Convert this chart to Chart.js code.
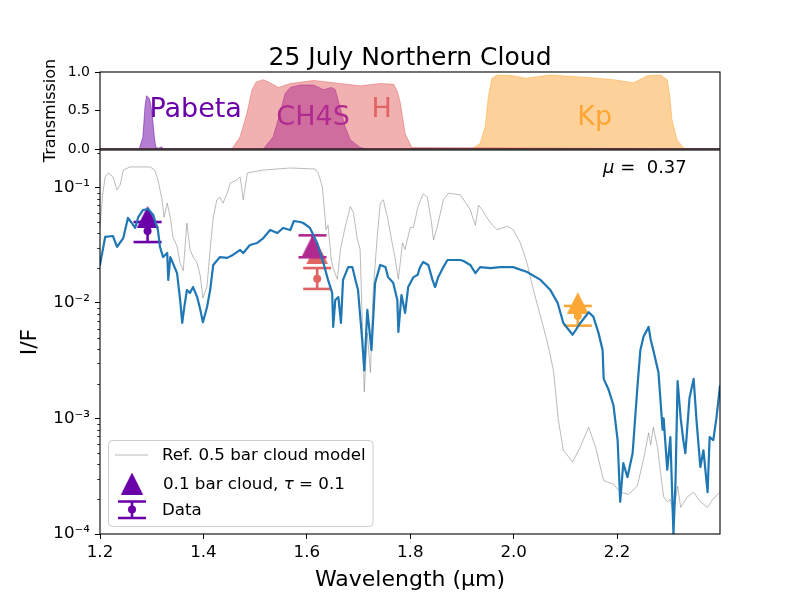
<!DOCTYPE html>
<html>
<head>
<meta charset="utf-8">
<script src="https://cdn.jsdelivr.net/npm/chart.js@4.4.0/dist/chart.umd.min.js"></script>
<style>
  body { margin: 0; background: #fff; }
  #wrap { position: relative; width: 800px; height: 600px; background: #fff; }
  #wrap canvas { position: absolute; left: 0; top: 0; }
</style>
</head>
<body>
<div id="wrap">
  <canvas id="spec" width="800" height="600"></canvas>
  <canvas id="filt" width="800" height="600"></canvas>
</div>
<script>
// ---- data ----
const titleText = "25 July Northern Cloud";
const xTicks = [1.2, 1.4, 1.6, 1.8, 2.0, 2.2];
const yTicks = [1e-4, 1e-3, 1e-2, 1e-1];
const yTickLabels = ["10⁻⁴", "10⁻³", "10⁻²", "10⁻¹"];
const transTicks = [0, 0.5, 1.0];
const legendLabels = ["Ref. 0.5 bar cloud model", "0.1 bar cloud, τ = 0.1", "Data"];
const muText = "μ =  0.37";

// reference 0.5 bar cloud model (grey)
const refWave = [
  1.200, 1.205, 1.210, 1.216, 1.225, 1.233, 1.239, 1.245, 1.258, 1.297,
  1.306, 1.312, 1.320, 1.324, 1.330, 1.336, 1.341, 1.349, 1.355, 1.361,
  1.368, 1.374, 1.380, 1.388, 1.394, 1.399, 1.407, 1.413, 1.419, 1.426,
  1.432, 1.438, 1.446, 1.452, 1.465, 1.471, 1.477, 1.485, 1.496, 1.516,
  1.568, 1.616, 1.622, 1.630, 1.634, 1.637, 1.641, 1.647, 1.651, 1.659,
  1.665, 1.674, 1.684, 1.690, 1.697, 1.703, 1.707, 1.711, 1.717, 1.723,
  1.728, 1.736, 1.742, 1.748, 1.757, 1.765, 1.771, 1.777, 1.785, 1.790,
  1.800, 1.806, 1.815, 1.825, 1.833, 1.841, 1.845, 1.852, 1.864, 1.874,
  1.897, 1.916, 1.926, 1.932, 1.939, 1.949, 1.959, 1.968, 1.988, 1.999,
  2.013, 2.026, 2.038, 2.052, 2.065, 2.077, 2.086, 2.096, 2.114, 2.129,
  2.145, 2.158, 2.174, 2.193, 2.206, 2.222, 2.239, 2.251, 2.261, 2.265,
  2.270, 2.278, 2.284, 2.290, 2.297, 2.303, 2.309, 2.317, 2.323, 2.336,
  2.348, 2.361, 2.375, 2.385, 2.399
];
const refIF = [
  0.045, 0.085, 0.123, 0.133, 0.123, 0.095, 0.105, 0.141, 0.150, 0.150,
  0.141, 0.116, 0.078, 0.055, 0.073, 0.055, 0.037, 0.031, 0.022, 0.019,
  0.049, 0.029, 0.025, 0.022, 0.017, 0.011, 0.014, 0.029, 0.055, 0.078,
  0.082, 0.073, 0.089, 0.109, 0.116, 0.123, 0.078, 0.133, 0.136, 0.141,
  0.147, 0.144, 0.133, 0.101, 0.064, 0.043, 0.047, 0.024, 0.020, 0.016,
  0.029, 0.045, 0.068, 0.061, 0.037, 0.029, 0.0076, 0.0017, 0.0055, 0.0025,
  0.012, 0.037, 0.073, 0.078, 0.052, 0.033, 0.024, 0.016, 0.033, 0.029,
  0.045, 0.045, 0.068, 0.088, 0.082, 0.050, 0.035, 0.045, 0.078, 0.089,
  0.086, 0.064, 0.047, 0.070, 0.064, 0.054, 0.047, 0.043, 0.046, 0.043,
  0.033, 0.022, 0.013, 0.0076, 0.0046, 0.0026, 0.0010, 0.00053, 0.00042, 0.00057,
  0.00084, 0.00057, 0.00029, 0.00027, 0.00023, 0.00022, 0.00026, 0.00044, 0.00075, 0.00059,
  0.00084, 0.00057, 0.00034, 0.00021, 0.00019, 0.00020, 0.00015, 0.00026, 0.00017, 0.00021,
  0.00023, 0.00019, 0.00017, 0.00020, 0.00023
];

// 0.1 bar cloud model (blue)
const cloudWave = [
  1.200, 1.210, 1.225, 1.233, 1.245, 1.254, 1.260, 1.268, 1.274, 1.283,
  1.293, 1.303, 1.312, 1.316, 1.322, 1.330, 1.332, 1.336, 1.341, 1.349,
  1.355, 1.359, 1.363, 1.368, 1.374, 1.380, 1.388, 1.394, 1.399, 1.407,
  1.413, 1.419, 1.432, 1.446, 1.457, 1.471, 1.477, 1.490, 1.504, 1.516,
  1.529, 1.543, 1.554, 1.568, 1.575, 1.587, 1.593, 1.601, 1.606, 1.620,
  1.632, 1.641, 1.649, 1.651, 1.655, 1.661, 1.666, 1.670, 1.680, 1.688,
  1.694, 1.699, 1.707, 1.711, 1.717, 1.725, 1.732, 1.742, 1.752, 1.757,
  1.767, 1.775, 1.777, 1.783, 1.790, 1.796, 1.806, 1.814, 1.819, 1.825,
  1.835, 1.843, 1.848, 1.854, 1.864, 1.872, 1.897, 1.903, 1.916, 1.926,
  1.935, 1.955, 1.974, 1.999, 2.026, 2.052, 2.071, 2.085, 2.096, 2.114,
  2.129, 2.145, 2.154, 2.164, 2.172, 2.174, 2.183, 2.193, 2.201, 2.206,
  2.212, 2.220, 2.230, 2.239, 2.245, 2.251, 2.261, 2.265, 2.270, 2.280,
  2.288, 2.290, 2.297, 2.303, 2.309, 2.313, 2.317, 2.323, 2.328, 2.332,
  2.340, 2.348, 2.354, 2.361, 2.367, 2.375, 2.379, 2.386, 2.392, 2.399
];
const cloudIF = [
  0.0213, 0.0372, 0.0379, 0.0305, 0.0364, 0.0543, 0.0501, 0.0445, 0.0553, 0.0636,
  0.0649, 0.0576, 0.0427, 0.0305, 0.0249, 0.0270, 0.0158, 0.0249, 0.0221, 0.0181,
  0.0106, 0.0067, 0.0092, 0.0129, 0.0122, 0.0137, 0.0112, 0.0087, 0.0068, 0.0092,
  0.0129, 0.0213, 0.0249, 0.0245, 0.0260, 0.0287, 0.0270, 0.0317, 0.0330, 0.0364,
  0.0427, 0.0402, 0.0445, 0.0427, 0.0511, 0.0501, 0.0491, 0.0463, 0.0445, 0.0330,
  0.0221, 0.0158, 0.0122, 0.0062, 0.0106, 0.0112, 0.0067, 0.0158, 0.0204, 0.0204,
  0.0158, 0.0129, 0.0048, 0.0026, 0.0087, 0.0039, 0.0149, 0.0213, 0.0204, 0.0167,
  0.0149, 0.0106, 0.0056, 0.0117, 0.0082, 0.0137, 0.0167, 0.0174, 0.0204, 0.0226,
  0.0213, 0.0158, 0.0137, 0.0167, 0.0204, 0.0235, 0.0235, 0.0230, 0.0213, 0.0181,
  0.0204, 0.0200, 0.0204, 0.0204, 0.0185, 0.0158, 0.0129, 0.0100, 0.0067, 0.0053,
  0.0067, 0.0083, 0.0076, 0.0055, 0.0039, 0.0022, 0.0018, 0.0013, 0.00065, 0.00019,
  0.00041, 0.00031, 0.00050, 0.0018, 0.0039, 0.0051, 0.0062, 0.0048, 0.0039, 0.0025,
  0.00080, 0.0010, 0.00036, 0.00069, 0.00010, 0.00029, 0.0021, 0.0010, 0.00065, 0.00050,
  0.0015, 0.0022, 0.00091, 0.00038, 0.00053, 0.00023, 0.00069, 0.00065, 0.0010, 0.0019
];

// filters: observed I/F with error bars, model I/F in each filter
const filterNames = ["Pabeta", "CH4S", "H", "Kp"];
const filterColors = ["#6a00a8", "#b12a90", "#e16462", "#fca636"];
const obsWave = [1.292, 1.611, 1.620, 2.124];
const obsIF = [0.0419, 0.0310, 0.0162, 0.0077];
const obsLow = [0.0336, 0.0248, 0.0132, 0.00635];
const obsHigh = [0.0501, 0.0384, 0.0200, 0.0094];
const modelIF = [0.0553, 0.0311, 0.0268, 0.00997];
const labelWave = [1.2955, 1.541, 1.725, 2.123];
const labelTrans = [0.42, 0.31, 0.42, 0.31];

// filter transmission curves
const paWave = [1.200, 1.276, 1.283, 1.287, 1.290, 1.295, 1.298, 1.302, 1.305, 1.308, 1.314, 1.319, 1.323, 2.399];
const paTrans = [0, 0, 0.16, 0.55, 0.69, 0.66, 0.59, 0.38, 0.16, 0.02, 0.01, 0.03, 0, 0];
const ch4Wave = [1.200, 1.516, 1.535, 1.548, 1.558, 1.568, 1.587, 1.613, 1.632, 1.648, 1.655, 1.664, 1.674, 1.684, 1.703, 1.716, 2.399];
const ch4Trans = [0, 0, 0.16, 0.46, 0.72, 0.80, 0.83, 0.83, 0.77, 0.80, 0.77, 0.55, 0.29, 0.12, 0.02, 0, 0];
const hWave = [1.200, 1.455, 1.471, 1.484, 1.494, 1.502, 1.516, 1.526, 1.545, 1.568, 1.613, 1.652, 1.703, 1.742, 1.768, 1.775, 1.781, 1.790, 1.803, 2.399];
const hTrans = [0, 0, 0.16, 0.46, 0.77, 0.87, 0.90, 0.87, 0.80, 0.85, 0.89, 0.86, 0.82, 0.85, 0.84, 0.75, 0.59, 0.20, 0.02, 0];
const kpWave = [1.200, 1.919, 1.935, 1.945, 1.951, 1.958, 1.968, 2.000, 2.023, 2.071, 2.142, 2.193, 2.232, 2.258, 2.284, 2.297, 2.302, 2.306, 2.316, 2.329, 2.342, 2.399];
const kpTrans = [0, 0, 0.07, 0.29, 0.68, 0.92, 0.96, 0.95, 0.92, 0.96, 0.93, 0.90, 0.86, 0.95, 0.96, 0.90, 0.68, 0.38, 0.12, 0.01, 0, 0];

const filtWave = [paWave, ch4Wave, hWave, kpWave];
const filtTrans = [paTrans, ch4Trans, hTrans, kpTrans];

// ---- helpers ----
Chart.defaults.font.family = "'DejaVu Sans', sans-serif";
Chart.defaults.color = "#000";
Chart.defaults.animation = false;

const FONT = "'DejaVu Sans', sans-serif";
const refColor = "rgba(128,128,128,0.6)";
const pts = (xs, ys) => xs.map((x, i) => ({ x: x, y: ys[i] }));

function rgba(hex, a) {
  const n = parseInt(hex.slice(1), 16);
  return `rgba(${(n >> 16) & 255},${(n >> 8) & 255},${n & 255},${a})`;
}

// matplotlib style "^" marker: as wide as it is tall, centred on its box
function triMarker(color, size) {
  const c = document.createElement("canvas");
  c.width = size;
  c.height = size;
  const g = c.getContext("2d");
  g.fillStyle = color;
  g.beginPath();
  g.moveTo(size / 2, 0);
  g.lineTo(size, size);
  g.lineTo(0, size);
  g.closePath();
  g.fill();
  return c;
}
const triangles = filterColors.map((c) => triMarker(c, 22));

// text with greek letters in italic, like mathtext
function drawMath(ctx, text, x, y, size) {
  for (const ch of text.split(/([μτ])/)) {
    if (!ch) continue;
    ctx.font = (/[μτ]/.test(ch) ? "italic " : "") + size + "px " + FONT;
    ctx.fillText(ch, x, y);
    x += ctx.measureText(ch).width;
  }
}

function roundBox(ctx, x, y, w, h, r) {
  ctx.beginPath();
  ctx.moveTo(x + r, y);
  ctx.arcTo(x + w, y, x + w, y + h, r);
  ctx.arcTo(x + w, y + h, x, y + h, r);
  ctx.arcTo(x, y + h, x, y, r);
  ctx.arcTo(x, y, x + w, y, r);
  ctx.closePath();
}

const frame = {
  id: "frame",
  afterDraw(chart) {
    const { ctx, chartArea: a } = chart;
    ctx.save();
    ctx.strokeStyle = "#000";
    ctx.lineWidth = 1.1;
    ctx.strokeRect(a.left, a.top, a.right - a.left, a.bottom - a.top);
    ctx.restore();
  }
};

const tickAxis = (extra) => Object.assign({
  border: { display: false },
  grid: { drawOnChartArea: false, drawTicks: true, tickLength: 5, color: "#000", lineWidth: 1 }
}, extra);

// ---- main spectrum panel ----
const specSets = [
  {
    label: legendLabels[1],
    data: pts(cloudWave, cloudIF),
    showLine: true, pointRadius: 0,
    borderColor: "#1f77b4", borderWidth: 2.2,
    borderJoinStyle: "round", borderCapStyle: "round",
    order: 0
  },
  {
    label: legendLabels[0],
    data: pts(refWave, refIF),
    showLine: true, pointRadius: 0,
    borderColor: refColor, borderWidth: 0.9,
    order: 100
  }
];
const stackRank = [1, 0, 3, 2]; // CH4S markers sit above H markers
filterNames.forEach((name, i) => {
  const c = filterColors[i];
  const r = stackRank[i] * 3;
  specSets.push({
    label: name + " model",
    data: [{ x: obsWave[i], y: modelIF[i] }],
    pointStyle: triangles[i], pointRadius: 11,
    order: 1 + r
  });
  specSets.push({
    label: name + " data",
    data: [{ x: obsWave[i], y: obsIF[i] }],
    pointStyle: "circle", pointRadius: 4,
    backgroundColor: c, borderWidth: 0,
    order: 2 + r
  });
  specSets.push({
    label: name + " error",
    data: [{ x: obsWave[i], y: obsLow[i] }, { x: obsWave[i], y: obsHigh[i] }],
    showLine: true, borderColor: c, borderWidth: 2.6,
    pointStyle: "line", pointRadius: 14,
    pointBorderColor: c, pointBorderWidth: 2.6,
    order: 3 + r
  });
});

const specExtras = {
  id: "specExtras",
  afterDraw(chart) {
    const { ctx, scales: { y }, chartArea: a } = chart;
    ctx.save();
    // minor log ticks
    ctx.strokeStyle = "#000";
    ctx.lineWidth = 0.8;
    for (let e = -4; e <= -1; e++) {
      for (let m = 2; m <= 9; m++) {
        const v = m * Math.pow(10, e);
        if (v > y.max) continue;
        const py = Math.round(y.getPixelForValue(v)) + 0.5;
        ctx.beginPath();
        ctx.moveTo(a.left, py);
        ctx.lineTo(a.left - 2.8, py);
        ctx.stroke();
      }
    }
    // mu label
    ctx.fillStyle = "#000";
    ctx.textBaseline = "alphabetic";
    ctx.textAlign = "left";
    drawMath(ctx, muText, 603, 172.5, 18);

    // legend
    roundBox(ctx, 108.5, 440.5, 264.5, 86, 4);
    ctx.fillStyle = "rgba(255,255,255,0.8)";
    ctx.fill();
    ctx.strokeStyle = "#cccccc";
    ctx.lineWidth = 1;
    ctx.stroke();

    ctx.strokeStyle = refColor;
    ctx.lineWidth = 0.9;
    ctx.beginPath();
    ctx.moveTo(115, 455);
    ctx.lineTo(148, 455);
    ctx.stroke();

    const tri = triangles[0];
    ctx.drawImage(tri, 132 - tri.width / 2, 483.5 - tri.height / 2);

    const c = filterColors[0];
    ctx.strokeStyle = c;
    ctx.lineWidth = 2.6;
    ctx.beginPath();
    ctx.moveTo(132, 501.5); ctx.lineTo(132, 518);
    ctx.moveTo(118, 501.5); ctx.lineTo(146, 501.5);
    ctx.moveTo(118, 518); ctx.lineTo(146, 518);
    ctx.stroke();
    ctx.fillStyle = c;
    ctx.beginPath();
    ctx.arc(132, 509.5, 4, 0, Math.PI * 2);
    ctx.fill();

    ctx.fillStyle = "#000";
    drawMath(ctx, legendLabels[0], 162, 460, 16.7);
    drawMath(ctx, legendLabels[1], 163, 489, 16.7);
    drawMath(ctx, legendLabels[2], 162, 515, 16.7);
    ctx.restore();
  }
};

new Chart(document.getElementById("spec"), {
  type: "scatter",
  data: { datasets: specSets },
  options: {
    responsive: false,
    events: [],
    layout: { autoPadding: false, padding: { left: 0, right: 80, top: 150, bottom: 0 } },
    plugins: { legend: { display: false }, tooltip: { enabled: false } },
    scales: {
      x: tickAxis({
        type: "linear", min: 1.2, max: 2.399,
        afterFit: (s) => { s.height = 66; },
        afterBuildTicks: (s) => { s.ticks = xTicks.map((v) => ({ value: v })); },
        ticks: { font: { size: 16.7 }, padding: 4, autoSkip: false, maxRotation: 0,
                 callback: (v) => Number(v).toFixed(1) },
        title: { display: true, text: "Wavelength (μm)", font: { size: 22 }, padding: { top: 0, bottom: 7 } }
      }),
      y: tickAxis({
        type: "logarithmic", min: 1e-4, max: 0.2103,
        afterFit: (s) => { s.width = 100; },
        afterBuildTicks: (s) => { s.ticks = yTicks.map((v) => ({ value: v })); },
        ticks: { font: { size: 16.7 }, padding: 5, autoSkip: false,
                 callback: (v, i) => yTickLabels[i] },
        title: { display: true, text: "I/F", font: { size: 22 }, padding: { top: 17, bottom: 0 } }
      })
    }
  },
  plugins: [frame, specExtras]
});

// ---- filter transmission panel ----
const filtOrder = [4, 1, 2, 3]; // CH4S fill drawn over H fill
const filtSets = filterNames.map((name, i) => ({
  label: name,
  data: pts(filtWave[i], filtTrans[i]),
  showLine: true, pointRadius: 0,
  borderColor: rgba(filterColors[i], 0.5), borderWidth: 1,
  backgroundColor: rgba(filterColors[i], 0.5),
  fill: "origin",
  order: filtOrder[i]
}));

const filtText = {
  id: "filtText",
  afterDraw(chart) {
    const { ctx, scales: { x, y }, chartArea: a } = chart;
    ctx.save();
    ctx.textBaseline = "alphabetic";
    ctx.textAlign = "left";
    ctx.font = "27px " + FONT;
    filterNames.forEach((name, i) => {
      ctx.fillStyle = filterColors[i];
      ctx.fillText(name, x.getPixelForValue(labelWave[i]), y.getPixelForValue(labelTrans[i]));
    });
    ctx.fillStyle = "#000";
    ctx.textAlign = "center";
    ctx.font = "25px " + FONT;
    ctx.fillText(titleText, (a.left + a.right) / 2, 65);
    ctx.restore();
  }
};

new Chart(document.getElementById("filt"), {
  type: "scatter",
  data: { datasets: filtSets },
  options: {
    responsive: false,
    events: [],
    layout: { autoPadding: false, padding: { left: 0, right: 80, top: 72, bottom: 451 } },
    plugins: { legend: { display: false }, tooltip: { enabled: false } },
    scales: {
      x: { type: "linear", min: 1.2, max: 2.399, display: false },
      y: tickAxis({
        type: "linear", min: 0, max: 1,
        afterFit: (s) => { s.width = 100; },
        afterBuildTicks: (s) => { s.ticks = transTicks.map((v) => ({ value: v })); },
        ticks: { font: { size: 14 }, padding: 5, autoSkip: false,
                 callback: (v) => Number(v).toFixed(1) },
        title: { display: true, text: "Transmission", font: { size: 16 }, padding: { top: 41, bottom: 0 } }
      })
    }
  },
  plugins: [frame, filtText]
});
</script>
</body>
</html>
